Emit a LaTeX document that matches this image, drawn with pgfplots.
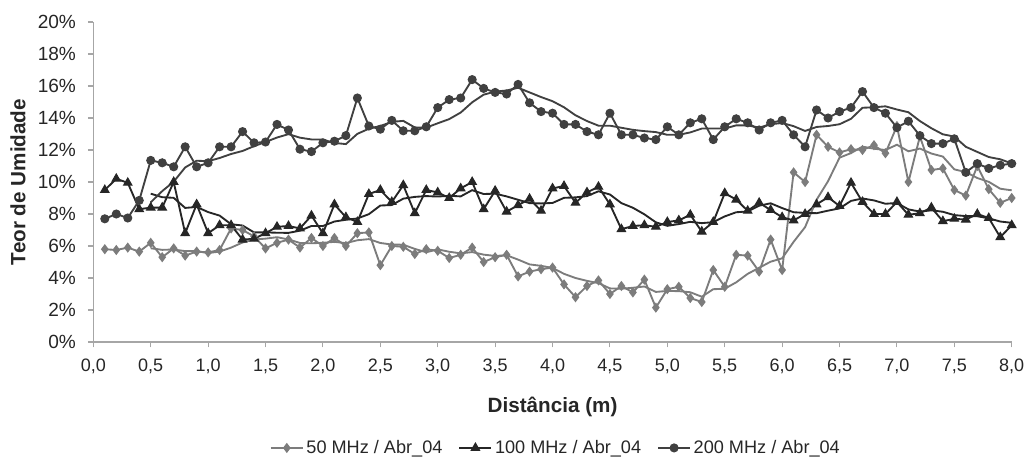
\documentclass[border=0pt]{standalone}
\usepackage{pgfplots}
\pgfplotsset{compat=1.18}
\usepackage{pgfplotstable}
\usepackage{fontspec}
\setmainfont{Liberation Sans}
\definecolor{cA}{HTML}{7C7C7C}
\definecolor{cB}{HTML}{262626}
\definecolor{cC}{HTML}{404040}
\definecolor{axc}{HTML}{A6A6A6}
\definecolor{txt}{HTML}{262626}

\pgfplotstableread{
x a b c
0.1 5.8 9.5 7.7
0.2 5.75 10.2 8.0
0.3 5.9 9.95 7.75
0.4 5.65 8.3 8.85
0.5 6.2 8.4 11.35
0.6 5.3 8.4 11.2
0.7 5.85 10.0 10.95
0.8 5.4 6.8 12.2
0.9 5.65 8.6 10.95
1.0 5.6 6.8 11.2
1.1 5.75 7.3 12.2
1.2 7.1 7.3 12.2
1.3 7.0 6.4 13.15
1.4 6.6 6.45 12.45
1.5 5.85 6.8 12.5
1.6 6.2 7.2 13.6
1.7 6.4 7.25 13.25
1.8 5.9 7.1 12.05
1.9 6.5 7.9 11.9
2.0 6.0 6.8 12.45
2.1 6.5 8.6 12.55
2.2 6.0 7.8 12.9
2.3 6.8 7.5 15.25
2.4 6.85 9.25 13.5
2.5 4.8 9.5 13.3
2.6 6.0 8.75 13.85
2.7 5.95 9.8 13.2
2.8 5.5 8.05 13.2
2.9 5.8 9.5 13.45
3.0 5.7 9.35 14.65
3.1 5.25 9.0 15.15
3.2 5.45 9.6 15.25
3.3 5.9 10.0 16.4
3.4 5.0 8.3 15.85
3.5 5.3 9.45 15.6
3.6 5.45 8.15 15.5
3.7 4.1 8.55 16.1
3.8 4.4 8.95 14.95
3.9 4.55 8.2 14.4
4.0 4.65 9.6 14.3
4.1 3.6 9.75 13.6
4.2 2.8 8.7 13.6
4.3 3.5 9.35 13.15
4.4 3.85 9.7 12.95
4.5 3.0 8.6 14.3
4.6 3.5 7.05 12.95
4.7 3.1 7.25 12.95
4.8 3.9 7.3 12.75
4.9 2.15 7.2 12.65
5.0 3.3 7.5 13.45
5.1 3.45 7.6 12.95
5.2 2.75 7.95 13.7
5.3 2.5 6.9 13.95
5.4 4.5 7.5 12.65
5.5 3.45 9.3 13.45
5.6 5.45 8.9 13.95
5.7 5.4 8.2 13.7
5.8 4.4 8.7 13.25
5.9 6.4 8.25 13.7
6.0 4.5 7.8 13.85
6.1 10.6 7.6 12.95
6.2 10.0 8.0 12.2
6.3 12.95 8.6 14.5
6.4 12.2 9.05 14.0
6.5 11.85 8.5 14.4
6.6 12.05 9.95 14.65
6.7 12.0 8.75 15.65
6.8 12.3 8.0 14.65
6.9 11.8 8.0 14.3
7.0 13.5 8.75 13.4
7.1 10.0 7.95 13.8
7.2 12.85 8.05 12.9
7.3 10.75 8.4 12.4
7.4 10.85 7.55 12.4
7.5 9.5 7.7 12.7
7.6 9.15 7.65 10.6
7.7 11.0 8.0 11.15
7.8 9.55 7.75 10.85
7.9 8.7 6.55 11.05
8.0 9.0 7.3 11.15
}\datatable

\pgfplotstableread{
x ta tb tc
0.5 5.86 9.27 8.73
0.6 5.76 9.05 9.43
0.7 5.78 9.01 10.02
0.8 5.68 8.38 10.91
0.9 5.68 8.44 11.33
1.0 5.56 8.12 11.30
1.1 5.65 7.90 11.50
1.2 5.90 7.36 11.75
1.3 6.22 7.28 11.94
1.4 6.41 6.85 12.24
1.5 6.46 6.85 12.50
1.6 6.55 6.83 12.78
1.7 6.41 6.82 12.99
1.8 6.19 6.96 12.77
1.9 6.17 7.25 12.66
2.0 6.20 7.25 12.65
2.1 6.26 7.53 12.44
2.2 6.18 7.64 12.37
2.3 6.36 7.72 13.01
2.4 6.43 7.99 13.33
2.5 6.19 8.53 13.50
2.6 6.09 8.56 13.76
2.7 6.08 8.96 13.82
2.8 5.82 9.07 13.41
2.9 5.61 9.12 13.40
3.0 5.79 9.09 13.67
3.1 5.64 9.14 13.93
3.2 5.54 9.10 14.34
3.3 5.62 9.49 14.98
3.4 5.46 9.25 15.46
3.5 5.38 9.27 15.65
3.6 5.42 9.10 15.72
3.7 5.15 8.89 15.89
3.8 4.85 8.68 15.60
3.9 4.76 8.66 15.31
4.0 4.63 8.69 15.05
4.1 4.26 9.01 14.67
4.2 4.00 9.04 14.17
4.3 3.82 9.12 13.81
4.4 3.68 9.42 13.52
4.5 3.35 9.22 13.52
4.6 3.33 8.68 13.39
4.7 3.39 8.39 13.26
4.8 3.47 7.98 13.18
4.9 3.13 7.48 13.12
5.0 3.19 7.26 12.95
5.1 3.18 7.37 12.95
5.2 3.11 7.51 13.10
5.3 2.83 7.43 13.34
5.4 3.30 7.49 13.34
5.5 3.33 7.85 13.34
5.6 3.73 8.11 13.54
5.7 4.26 8.16 13.54
5.8 4.64 8.52 13.40
5.9 5.02 8.67 13.61
6.0 5.23 8.37 13.69
6.1 6.26 8.11 13.49
6.2 7.18 8.07 13.19
6.3 8.89 8.05 13.44
6.4 10.05 8.21 13.50
6.5 11.52 8.35 13.61
6.6 11.81 8.82 13.95
6.7 12.21 8.97 14.64
6.8 12.08 8.85 14.67
6.9 12.00 8.64 14.73
7.0 12.33 8.69 14.53
7.1 11.92 8.29 14.36
7.2 12.09 8.15 13.81
7.3 11.78 8.23 13.36
7.4 11.59 8.14 12.98
7.5 10.79 7.93 12.84
7.6 10.62 7.87 12.20
7.7 10.25 7.86 11.88
7.8 10.01 7.73 11.56
7.9 9.58 7.53 11.42
8.0 9.48 7.45 11.16
}\trendtable

\begin{document}
\begin{tikzpicture}
\useasboundingbox (-70pt,-92.25pt) rectangle (701pt,256.5pt);
\begin{axis}[
  at={(0,0)}, anchor=south west,
  scale only axis, width=688.8pt, height=240pt,
  xmin=0, xmax=8, ymin=0, ymax=20,
  axis x line*=bottom, axis y line*=left,
  axis line style={draw=axc, line width=0.8pt},
  tick style={draw=axc, line width=0.8pt},
  tick align=outside, major tick length=4pt,
  xtick={0,0.5,1,1.5,2,2.5,3,3.5,4,4.5,5,5.5,6,6.5,7,7.5,8},
  xticklabels={{0,0},{0,5},{1,0},{1,5},{2,0},{2,5},{3,0},{3,5},{4,0},{4,5},{5,0},{5,5},{6,0},{6,5},{7,0},{7,5},{8,0}},
  ytick={0,2,4,6,8,10,12,14,16,18,20},
  yticklabels={0\%,2\%,4\%,6\%,8\%,10\%,12\%,14\%,16\%,18\%,20\%},
  xticklabel style={font=\fontsize{13.5}{16}\selectfont, text=txt, yshift=-5pt},
  yticklabel style={font=\fontsize{14.3}{17}\selectfont, text=txt, xshift=-5.5pt},
  xlabel={Distância (m)},
  ylabel={Teor de Umidade},
  label style={font=\fontsize{15.5}{18}\selectfont\bfseries, text=txt},
  xlabel style={at={(axis description cs:0.5,-0.203)}, anchor=center},
  ylabel style={at={(axis description cs:-0.082,0.5)}, anchor=center},
  legend style={at={(axis description cs:0.504,-0.331)}, anchor=center,
    draw=none, fill=none, font=\fontsize{13.6}{16}\selectfont, text=txt,
    /tikz/every even column/.append style={column sep=10pt}},
  legend columns=3,
  legend image code/.code={\draw[#1, line width=1pt] (0pt,0pt) -- (24pt,0pt); \draw[#1, mark repeat=2, mark phase=2] plot coordinates {(0pt,0pt) (12pt,0pt) (24pt,0pt)};},
  clip=false,
]
\addplot[cA, line width=1.4pt, mark=diamond*, mark size=3.2pt, mark options={fill=cA, draw=cA, line width=0.8pt}] table[x=x, y=a] {\datatable};
\addlegendentry{50 MHz / Abr\_04}
\addplot[cB, line width=1.4pt, mark=triangle*, mark size=3.6pt, mark options={fill=cB, draw=cB, line width=0.8pt}] table[x=x, y=b] {\datatable};
\addlegendentry{100 MHz / Abr\_04}
\addplot[cC, line width=1.4pt, mark=*, mark size=3pt, mark options={fill=cC, draw=cC, line width=0.8pt}] table[x=x, y=c] {\datatable};
\addlegendentry{200 MHz / Abr\_04}
\addplot[cA, line width=1.4pt, forget plot] table[x=x, y=ta] {\trendtable};
\addplot[cB, line width=1.4pt, forget plot] table[x=x, y=tb] {\trendtable};
\addplot[cC, line width=1.4pt, forget plot] table[x=x, y=tc] {\trendtable};
\end{axis}
\end{tikzpicture}
\end{document}
